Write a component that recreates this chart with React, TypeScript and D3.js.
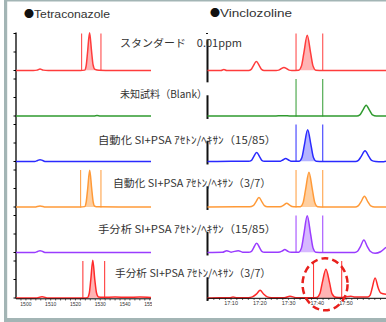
import React from "react";
import * as d3 from "d3";

const W = 386;
const H = 322;

// ---------------- data ----------------
const compoundNames = ["●Tetraconazole", "●Vinclozoline"];
const sampleLabels = [
  "スタンダード　0.01ppm",
  "未知試料（Blank）",
  "自動化 SI+PSA ｱｾﾄﾝ/ﾍｷｻﾝ（15/85）",
  "自動化 SI+PSA ｱｾﾄﾝ/ﾍｷｻﾝ（3/7）",
  "手分析 SI+PSA ｱｾﾄﾝ/ﾍｷｻﾝ（15/85）",
  "手分析 SI+PSA ｱｾﾄﾝ/ﾍｷｻﾝ（3/7）",
];
const leftTickValues = [1500, 1510, 1520, 1530, 1540, 1550];
const leftTickLabels = ["1500", "1510", "1520", "1530", "1540", "1550"];
const rightTickValues = [1710, 1720, 1730, 1740, 1750];
const rightTickLabels = ["17:10", "17:20", "17:30", "17:40", "17:50"];
const leftDomain: [number, number] = [1496, 1550.5];
const rightDomain: [number, number] = [1701.8, 1763.9];

type Pt = [number, number];

const leftRed1: Pt[] = [
  [1496, 0], [1503, 0], [1504.5, 1], [1505.7, 4], [1507, 1], [1509, 0], [1522, 0],
  [1523.7, 1], [1524.35, 14], [1524.9, 50], [1525.7, 102], [1526.5, 52], [1527.1, 16],
  [1527.9, 3], [1529.5, 0.5], [1535, 0], [1550.5, 0],
];
const leftGreen: Pt[] = [
  [1496, 0], [1527.5, 0], [1528.7, 1.5], [1530, 0], [1550.5, 0],
];
const leftBlue: Pt[] = [
  [1496, 0], [1503.5, 0], [1504.7, 2.5], [1505.7, 5], [1506.8, 2.5], [1508, 0], [1550.5, 0],
];
const leftOrange: Pt[] = [
  [1496, 0], [1503.5, 0], [1505.7, 3], [1508, 0], [1522, 0], [1523.7, 1], [1524.35, 14],
  [1524.95, 50], [1525.75, 99], [1526.55, 50], [1527.15, 14], [1527.8, 2], [1529, 0.5], [1550.5, 0],
];
const leftPurple: Pt[] = [
  [1496, 0], [1503.5, 0], [1504.7, 2.5], [1505.7, 5], [1506.8, 2.5], [1508, 0], [1550.5, 0],
];
const leftRed2: Pt[] = [
  [1496, 0], [1504, 0], [1506.5, 3.5], [1509, 0], [1523.5, 0], [1524.8, 1], [1525.6, 14],
  [1526.2, 50], [1527, 102], [1527.8, 50], [1528.5, 14], [1529.3, 3], [1531, 2], [1536, 2.5],
  [1541, 2], [1546, 2.5], [1550.5, 1.5],
];

const rightRed1: Pt[] = [
  [1701.8, 0], [1706.5, 0], [1707.5, 2.5], [1708.5, 0], [1716.1, 0.3], [1717.0, 3.2],
  [1717.7, 12], [1718.8, 24], [1719.9, 12], [1720.6, 3.2], [1721.5, 0.3], [1725.7, 0],
  [1726.6, 1], [1727.3, 4], [1728.4, 8], [1729.5, 4], [1730.2, 1], [1731.1, 0],
  [1733.5, 1], [1734.5, 12.5], [1735.3, 46], [1736.5, 95], [1737.7, 46], [1738.5, 12.5],
  [1739.5, 1], [1742, 0], [1763.9, 0],
];
const rightGreen: Pt[] = [
  [1701.8, 0], [1725, 0], [1728, 1], [1731, 0], [1753.8, 0], [1754.8, 3], [1755.8, 15],
  [1757.0, 29], [1758.2, 15], [1759.2, 3], [1760.5, 0], [1763.9, 0],
];
const rightBlue: Pt[] = [
  [1701.8, 0], [1710, 0.5], [1714, 1], [1716.1, 0.5], [1717.1, 3.2], [1717.8, 12],
  [1718.9, 24], [1720.0, 12], [1720.7, 3.2], [1721.6, 0.5], [1725.7, 0.5], [1727.2, 1],
  [1728, 4], [1729, 8], [1730, 4], [1730.8, 1], [1732, 0.5], [1733.7, 1], [1734.65, 11],
  [1735.45, 42], [1736.65, 86], [1737.85, 42], [1738.65, 11], [1739.65, 1], [1742, 0],
  [1753.3, 0], [1754.3, 3], [1755.3, 14], [1756.6, 29], [1757.9, 14], [1758.9, 3],
  [1760.3, 0], [1762.5, -1], [1763.9, 1],
];
const rightOrange: Pt[] = [
  [1701.8, 0], [1712, 0.5], [1716.5, 0.5], [1717.7, 3.5], [1718.6, 13], [1719.7, 26],
  [1720.8, 13], [1721.6, 3.5], [1722.6, 0.5], [1726.5, 0.5], [1727.5, 1.5], [1728.3, 5],
  [1729.35, 10], [1730.4, 5], [1731.2, 1.5], [1732.5, 0.5], [1734.1, 1], [1735.1, 12.5],
  [1735.9, 46], [1737.1, 94], [1738.3, 46], [1739.1, 12.5], [1740.1, 1], [1742.5, 0],
  [1753.2, 0], [1754.2, 3], [1755.2, 14], [1756.4, 29], [1757.6, 14], [1758.6, 3],
  [1760, 0], [1763.9, 0],
];
const rightPurple: Pt[] = [
  [1701.8, 0], [1707, 0.5], [1708.5, 5], [1710, 1], [1712.5, 5], [1714, 1], [1716.1, 0.5],
  [1717.1, 3.2], [1717.8, 12], [1718.9, 25], [1720.0, 12], [1720.7, 3.2], [1721.6, 0.5],
  [1725.7, 0.5], [1727, 1.5], [1727.8, 4], [1728.7, 8], [1729.6, 4], [1730.4, 1],
  [1731.5, 0.5], [1733.5, 1], [1734.5, 12.5], [1735.3, 48], [1736.5, 99], [1737.7, 48],
  [1738.5, 12.5], [1739.5, 1], [1742, 0], [1753, 0], [1754, 3.5], [1755, 16], [1756.2, 34],
  [1757.4, 16], [1758.4, 3.5], [1760.1, -2], [1762, 2], [1763.9, 14],
];
const rightRed2: Pt[] = [
  [1701.8, 0], [1706, 1], [1709.5, 0.5], [1710.7, 3], [1712, 0.5], [1716, 1], [1717.4, 3],
  [1718.9, 11], [1720.1, 21], [1721.3, 11], [1722.6, 3], [1724, 1], [1728.5, 0.5],
  [1730.5, 5], [1732.5, 1], [1738, 1], [1739.8, 1.5], [1740.9, 12], [1741.7, 40],
  [1743.0, 78], [1744.3, 40], [1745.1, 12], [1746.5, 2], [1748.5, 1.5], [1751.7, 5],
  [1753.1, 2.5], [1755, 3], [1757.5, 2.5], [1758.4, 8], [1759.1, 27], [1760.1, 54],
  [1761.2, 27], [1762, 14], [1763.9, 10],
];

const leftTraces = [leftRed1, leftGreen, leftBlue, leftOrange, leftPurple, leftRed2];
const rightTraces = [rightRed1, rightGreen, rightBlue, rightOrange, rightPurple, rightRed2];
const leftWindows: ([number, number] | null)[] = [
  [1522.5, 1530.3], null, null, [1522.1, 1530.3], null, [1523.0, 1531.8],
];
const rightWindows: ([number, number] | null)[] = [
  [1732.6, 1741.9], [1732.6, 1741.9], [1732.6, 1741.9], [1732.6, 1741.9], [1732.6, 1741.9],
  [1738.7, 1748.5],
];
const highlightTime = 1742.7;
const highlightLevel = 37;

// ---------------- styles / layout ----------------
const lineColors = ["#ff3c3c", "#2f9a2f", "#2a2aff", "#ff9a38", "#9a3cff", "#ff2a2a"];
const fillColors = ["#ffb4b4", "none", "#b4b4ff", "#ffcfa0", "#d6b8ff", "#ffb4b4"];
const frameColor = "#a3b5b5";
const textColor = "#333333";
const jpFont = "'Noto Sans CJK JP', sans-serif";
const latinFont = "'Liberation Sans', Arial, sans-serif";

const base0 = 70.5;
const step = 45.5;
const panelH = 37;
const leftRange: [number, number] = [16, 151];
const rightRange: [number, number] = [207.5, 386];
const labelLeft = [120, 120, 98, 113, 98, 115];
const labelRight = [242, 207, 276, 271, 276, 271];
const labelCenterDy = [-27.5, -22, -21.5, -24, -23.5, -25];
const titleX = [24, 210];
const titleY = [18, 16.5];
const titleNameLen = [76, 72];

const panelScale = (i: number) =>
  d3.scaleLinear().domain([0, 100]).range([base0 + i * step, base0 + i * step - panelH]);

function Panel({
  side,
  traces,
  windows,
  xScale,
}: {
  side: string;
  traces: Pt[][];
  windows: ([number, number] | null)[];
  xScale: d3.ScaleLinear<number, number>;
}) {
  return (
    <g>
      {traces.map((pts, i) => {
        const y = panelScale(i);
        const line = d3
          .line<Pt>()
          .x((d) => xScale(d[0]))
          .y((d) => y(d[1]))
          .curve(d3.curveMonotoneX);
        const area = d3
          .area<Pt>()
          .x((d) => xScale(d[0]))
          .y0(y(0))
          .y1((d) => y(d[1]))
          .curve(d3.curveMonotoneX);
        const w = windows[i];
        const clipId = `clip-${side}-${i}`;
        return (
          <g key={i}>
            {w && (
              <>
                <clipPath id={clipId}>
                  <rect
                    x={xScale(w[0])}
                    y={y(110)}
                    width={xScale(w[1]) - xScale(w[0])}
                    height={y(0) - y(110)}
                  />
                </clipPath>
                {fillColors[i] !== "none" && (
                  <path d={area(pts) || ""} fill={fillColors[i]} clipPath={`url(#${clipId})`} />
                )}
                {w.map((t, k) => (
                  <line
                    key={k}
                    x1={xScale(t)}
                    x2={xScale(t)}
                    y1={y(0) + 0.5}
                    y2={y(100)}
                    stroke={lineColors[i]}
                    strokeWidth={1}
                  />
                ))}
              </>
            )}
            <path
              d={line(pts) || ""}
              fill="none"
              stroke={lineColors[i]}
              strokeWidth={1.5}
              strokeLinejoin="round"
            />
          </g>
        );
      })}
    </g>
  );
}

export default function App() {
  const xL = d3.scaleLinear().domain(leftDomain).range(leftRange);
  const xR = d3.scaleLinear().domain(rightDomain).range(rightRange);
  const bottomY = panelScale(5)(0);
  const topY = panelScale(0)(100);
  const panels = d3.range(6);

  const leftMinor = d3.range(1498, 1551, 2);
  const rightMinor = d3.range(1702, 1764, 2);

  return (
    <div style={{ position: "absolute", left: 0, top: 0, width: W, height: H }}>
      <svg width={W} height={H} style={{ display: "block", background: "#ffffff" }}>
        {/* frame */}
        <rect x={4} y={0} width={W - 4} height={1.5} fill={frameColor} />
        <rect x={4} y={0} width={3.2} height={H} fill={frameColor} />
        <rect x={4} y={318} width={W - 4} height={4} fill={frameColor} />

        {/* titles */}
        {compoundNames.map((name, k) => (
          <g key={`title${k}`}>
            <text x={titleX[k]} y={titleY[k]} fontFamily={jpFont} fontSize={10} fill="#111">
              {name.slice(0, 1)}
            </text>
            <text x={titleX[k] + 10} y={titleY[k]} fontFamily={latinFont} fontSize={11}
              fill={textColor} textLength={titleNameLen[k]} lengthAdjust="spacingAndGlyphs">
              {name.slice(1)}
            </text>
          </g>
        ))}

        {/* left y axis */}
        <line x1={leftRange[0]} x2={leftRange[0]} y1={topY - 1} y2={bottomY + 0.5}
          stroke="#000" strokeWidth={1.3} />
        {panels.map((i) =>
          [0, 50, 100].map((v) => (
            <line key={`lt${i}-${v}`} x1={leftRange[0] - 2.5} x2={leftRange[0]}
              y1={panelScale(i)(v)} y2={panelScale(i)(v)} stroke="#000" strokeWidth={1} />
          ))
        )}

        {/* right y axis segments */}
        {panels.map((i) => {
          const y = panelScale(i);
          const top = i === 0 ? 84 : 56;
          const bot = i === 0 ? -32 : -8;
          return (
            <g key={`ra${i}`}>
              <line x1={rightRange[0]} x2={rightRange[0]} y1={y(top)} y2={y(bot)}
                stroke="#111" strokeWidth={2} />
            </g>
          );
        })}
        <line x1={rightRange[0] - 1.5} x2={rightRange[0] + 0.5} y1={panelScale(0)(100)}
          y2={panelScale(0)(100)} stroke="#111" strokeWidth={1} />

        {/* traces */}
        <Panel side="L" traces={leftTraces} windows={leftWindows} xScale={xL} />
        <Panel side="R" traces={rightTraces} windows={rightWindows} xScale={xR} />

        {/* x axes */}
        <line x1={leftRange[0]} x2={leftRange[1]} y1={bottomY + 0.8} y2={bottomY + 0.8}
          stroke="#000" strokeWidth={1} />
        {leftMinor.map((t) => (
          <line key={`lm${t}`} x1={xL(t)} x2={xL(t)} y1={bottomY + 1} y2={bottomY + 2.5}
            stroke="#000" strokeWidth={0.6} />
        ))}
        <clipPath id="leftLabelClip">
          <rect x={0} y={bottomY} width={152} height={20} />
        </clipPath>
        <g clipPath="url(#leftLabelClip)">
          {leftTickValues.map((t, k) => (
            <text key={`ll${t}`} x={xL(t)} y={bottomY + 7.5} textAnchor="middle"
              fontFamily={latinFont} fontSize={5} fill={textColor}>{leftTickLabels[k]}</text>
          ))}
        </g>
        <line x1={rightRange[0]} x2={rightRange[1]} y1={bottomY + 0.3} y2={bottomY + 0.3}
          stroke="#000" strokeWidth={1} />
        {rightMinor.map((t) => (
          <line key={`rm${t}`} x1={xR(t)} x2={xR(t)} y1={bottomY + 0.5} y2={bottomY + 2}
            stroke="#000" strokeWidth={0.6} />
        ))}
        {rightTickValues.map((t, k) => (
          <text key={`rl${t}`} x={xR(t)} y={bottomY + 7} textAnchor="middle"
            fontFamily={latinFont} fontSize={5.5} fill={textColor}>{rightTickLabels[k]}</text>
        ))}

        {/* sample labels */}
        {sampleLabels.map((s, i) => (
          <text key={`sl${i}`} x={labelLeft[i]} y={panelScale(i)(0) + labelCenterDy[i] + 4}
            fontFamily={jpFont} fontSize={10.5} fill={textColor}
            textLength={labelRight[i] - labelLeft[i]} lengthAdjust="spacingAndGlyphs">{s}</text>
        ))}

        {/* highlight ellipse */}
        <ellipse cx={xR(highlightTime)} cy={panelScale(5)(highlightLevel)} rx={22.5} ry={26}
          fill="none" stroke="#e8201c" strokeWidth={2.5} strokeDasharray="7 4" />
      </svg>
    </div>
  );
}
